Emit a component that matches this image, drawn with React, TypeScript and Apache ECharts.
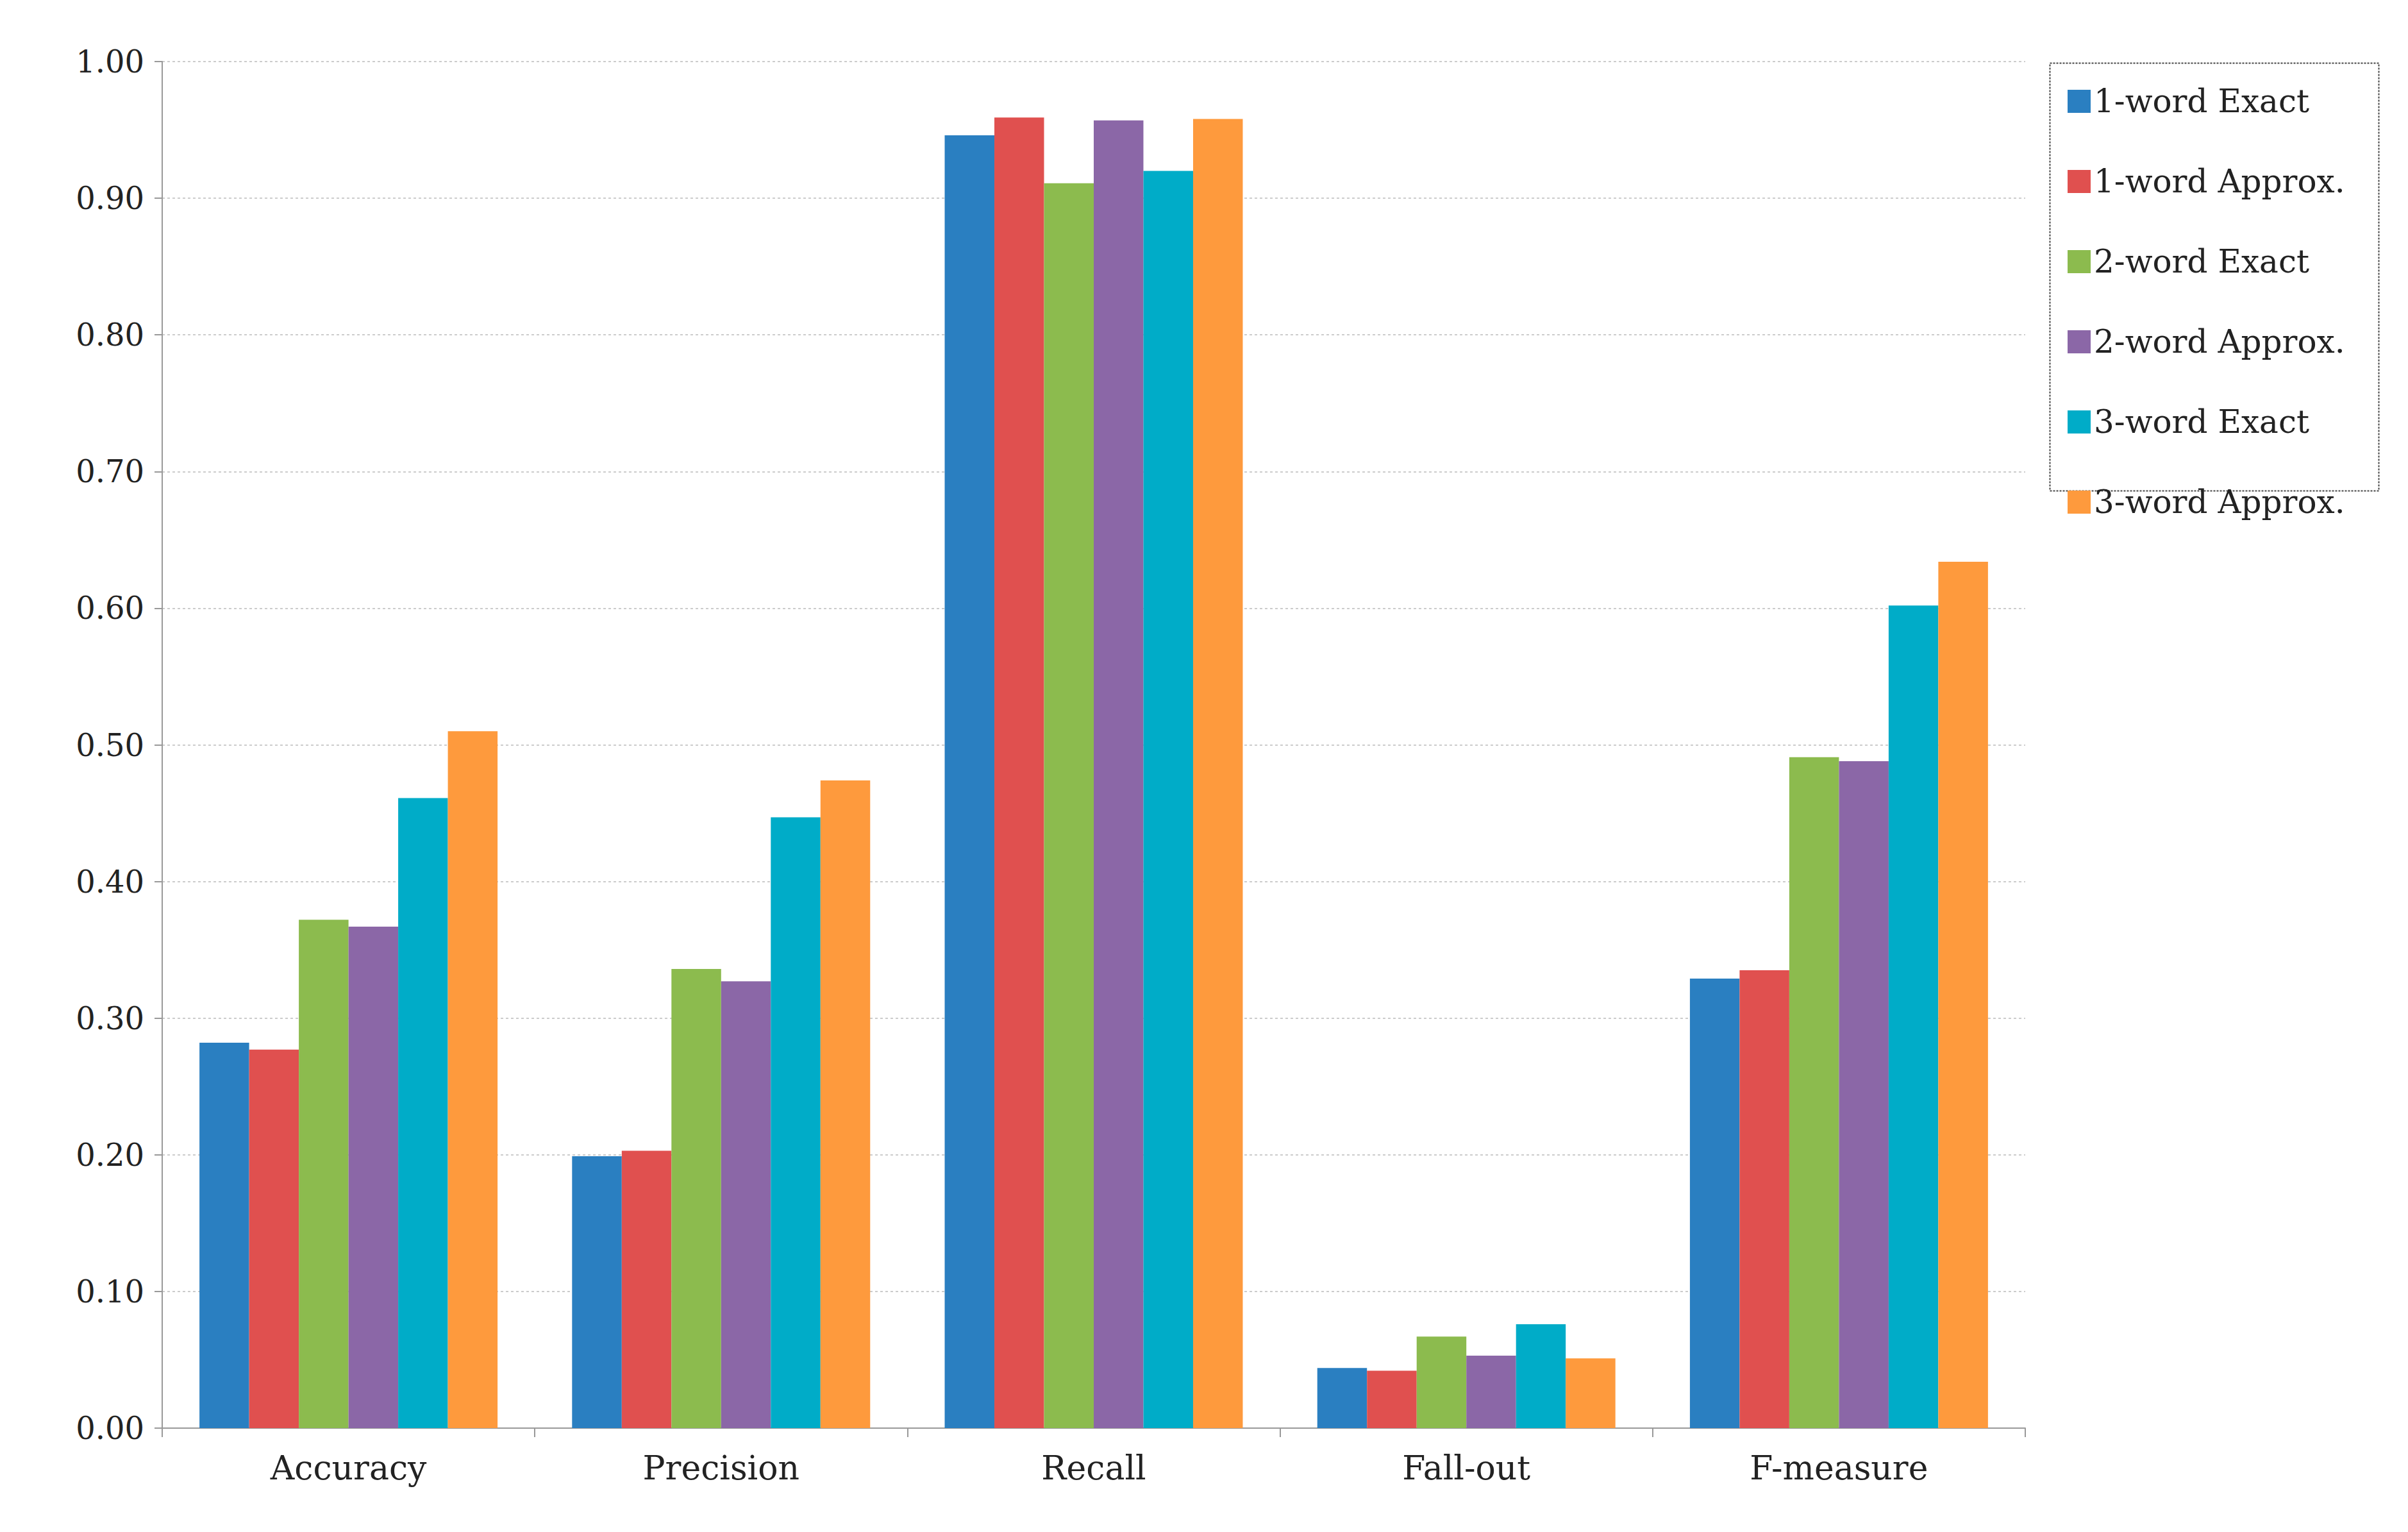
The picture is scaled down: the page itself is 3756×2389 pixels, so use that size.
import { useEffect, useRef } from "react";
import * as echarts from "echarts";

const categories = ["Accuracy", "Precision", "Recall", "Fall-out", "F-measure"];
const seriesNames = [
  "1-word Exact",
  "1-word Approx.",
  "2-word Exact",
  "2-word Approx.",
  "3-word Exact",
  "3-word Approx.",
];
const colors = ["#2a7fc1", "#e0504f", "#8cbb4e", "#8b67a7", "#00acc8", "#fe9a3d"];
const values = [
  [0.282, 0.199, 0.946, 0.044, 0.329],
  [0.277, 0.203, 0.959, 0.042, 0.335],
  [0.372, 0.336, 0.911, 0.067, 0.491],
  [0.367, 0.327, 0.957, 0.053, 0.488],
  [0.461, 0.447, 0.92, 0.076, 0.602],
  [0.51, 0.474, 0.958, 0.051, 0.634],
];

const FONT = "'DejaVu Serif', 'Liberation Serif', serif";

export default function App() {
  const ref = useRef<HTMLDivElement>(null);

  useEffect(() => {
    if (!ref.current) return;
    const chart = echarts.init(ref.current, undefined, { renderer: "svg" });
    chart.setOption({
      animation: false,
      backgroundColor: "#ffffff",
      textStyle: { fontFamily: FONT },
      grid: { left: 245, right: 3740 - 3151, top: 88, bottom: 2373 - 2219 },
      legend: {
        orient: "vertical",
        left: 3212,
        top: 120,
        itemWidth: 36,
        itemHeight: 36,
        itemGap: 75,
        icon: "rect",
        textStyle: { fontFamily: FONT, fontSize: 50, color: "#222" },
        data: seriesNames,
      },
      graphic: [
        {
          type: "rect",
          left: 3187,
          top: 88,
          shape: { width: 513, height: 667 },
          style: { fill: "none", stroke: "#444", lineWidth: 2, lineDash: [3, 2] },
          silent: true,
        },
      ],
      xAxis: {
        type: "category",
        data: categories,
        axisLine: { lineStyle: { color: "#999", width: 2 } },
        axisTick: { show: true, length: 14, lineStyle: { color: "#999", width: 2 } },
        axisLabel: { fontFamily: FONT, fontSize: 52, color: "#222", margin: 36 },
      },
      yAxis: {
        type: "value",
        min: 0,
        max: 1,
        interval: 0.1,
        axisLine: { show: true, lineStyle: { color: "#999", width: 2 } },
        axisTick: { show: true, length: 12, lineStyle: { color: "#999", width: 2 } },
        axisLabel: {
          fontFamily: FONT,
          fontSize: 48,
          color: "#222",
          margin: 28,
          formatter: (v: number) => v.toFixed(2),
        },
        splitLine: { lineStyle: { color: "#cccccc", type: [4, 4], width: 2 } },
      },
      series: seriesNames.map((name, i) => ({
        name,
        type: "bar",
        data: values[i],
        itemStyle: { color: colors[i] },
        barGap: "0%",
        barCategoryGap: "20%",
      })),
    });
    return () => chart.dispose();
  }, []);

  return <div ref={ref} style={{ width: 3740, height: 2373 }} />;
}
